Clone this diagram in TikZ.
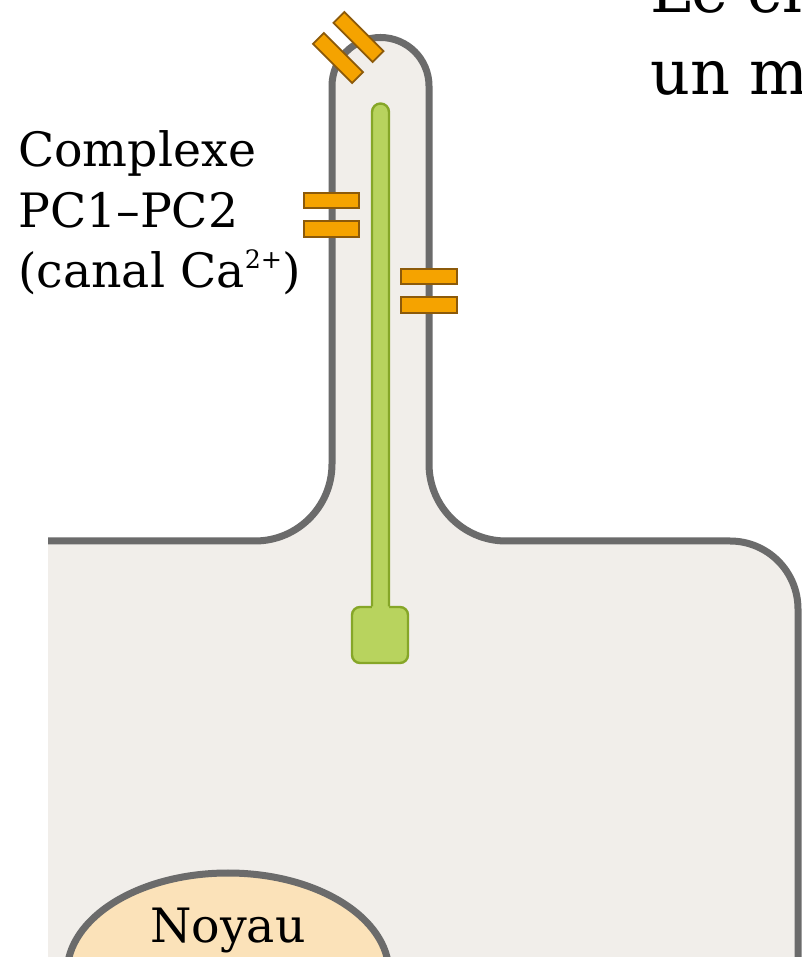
\documentclass[tikz,border=0pt]{standalone}
\usepackage{fontspec}
\setmainfont{DejaVu Serif}
\usetikzlibrary{shapes.geometric}

\definecolor{membrane}{RGB}{107,107,107}
\definecolor{cytoplasm}{RGB}{241,238,234}
\definecolor{nucleusfill}{RGB}{251,226,185}
\definecolor{chanfill}{RGB}{245,163,0}
\definecolor{chanedge}{RGB}{140,90,10}
\definecolor{axofill}{RGB}{184,211,94}
\definecolor{axoedge}{RGB}{134,166,40}

% small raised charge, set close to the cap height
\newcommand{\ionsup}[1]{\raisebox{0.42em}{\fontsize{19pt}{20pt}\selectfont #1}}

\begin{document}
\begin{tikzpicture}[x=0.75pt,y=0.75pt,
  membraneline/.style={draw=membrane,line width=5.25pt},
  chan/.style={rectangle,draw=chanedge,fill=chanfill,line width=1.4pt,
    minimum width=41.5pt,minimum height=11.5pt,inner sep=0pt},
  axo/.style={draw=axoedge,fill=axofill,line width=1.8pt},
  labeltext/.style={font=\fontsize{35.5pt}{46pt}\selectfont,inner sep=0pt},
  titletext/.style={font=\fontsize{46.5pt}{60pt}\selectfont,inner sep=0pt}]

\useasboundingbox (0,0) rectangle (801,957);
\fill[white] (0,0) rectangle (801,957);

% cytoplasm with the primary cilium
\fill[cytoplasm] (48,416) -- (255,416) arc (270:360:77) -- (332,871)
  arc (180:0:48.5) -- (429,493) arc (180:270:77) -- (730,416)
  arc (90:0:68) -- (798,-10) -- (48,-10) -- cycle;
\draw[membraneline] (48,416) -- (255,416) arc (270:360:77) -- (332,871)
  arc (180:0:48.5) -- (429,493) arc (180:270:77) -- (730,416)
  arc (90:0:68) -- (798,-10);

% basal body and axoneme
\draw[axo,rounded corners=6pt] (352,294) rectangle (408,350);
\fill[axofill] (372,348) -- (372,845) arc (180:0:8.5) -- (389,348) -- cycle;
\draw[axoedge,line width=1.8pt] (372,350.5) -- (372,845) arc (180:0:8.5) -- (389,350.5);

% PC1-PC2 channels in the ciliary membrane
\node[chan] (chanL1) at (331.5,756.5) {};
\node[chan] (chanL2) at (331.5,728) {};
\node[chan] (chanR1) at (429,680.5) {};
\node[chan] (chanR2) at (429,652) {};
\node[chan,rotate=-45] (chanT1) at (358.5,920) {};
\node[chan,rotate=-45] (chanT2) at (338,899) {};

% nucleus
\draw[membraneline,fill=nucleusfill] (228,-16) ellipse [x radius=161,y radius=100];
\node[labeltext,anchor=base] (noyau) at (228,14) {Noyau};

% channel label
\node[labeltext,anchor=base west] (lbl1) at (18,790) {Complexe};
\node[labeltext,anchor=base west] (lbl2) at (18,729) {PC1–PC2};
\node[labeltext,anchor=base west] (lbl3) at (18,669) {(canal Ca\ionsup{2+})};

% heading
\node[titletext,anchor=base west] (head1) at (650,944) {Le ci};
\node[titletext,anchor=base west] (head2) at (650,862) {un m};
\end{tikzpicture}
\end{document}
